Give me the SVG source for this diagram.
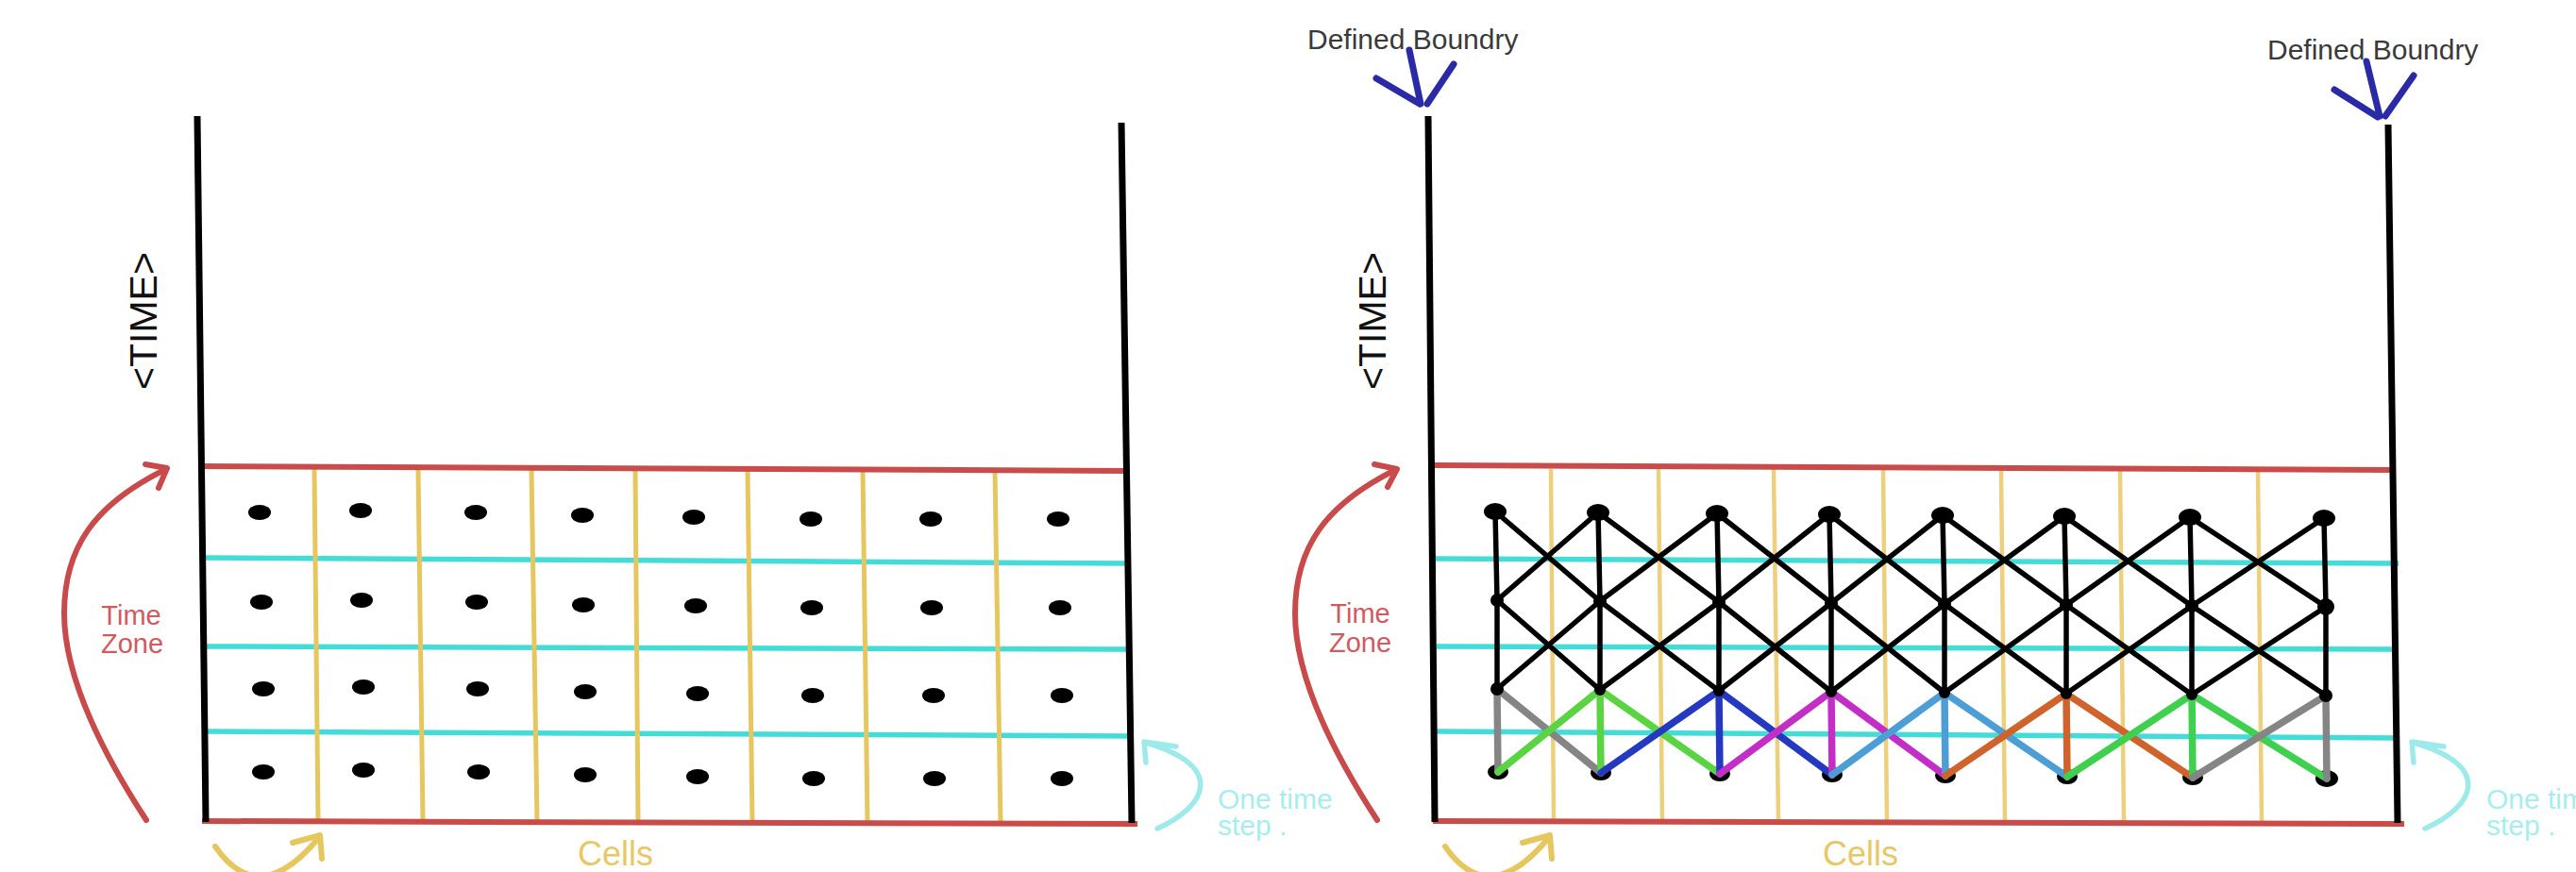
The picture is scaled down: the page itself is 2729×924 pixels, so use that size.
<svg xmlns="http://www.w3.org/2000/svg" width="2729" height="924" viewBox="0 0 2729 924">
<style>
.wall{stroke:#000;stroke-width:7;stroke-linecap:butt;fill:none}
.red{stroke:#c94c4a;stroke-width:6;fill:none}
.cyan{stroke:#44dcd8;stroke-width:5.5;fill:none}
.yel{stroke:#e6c65f;stroke-width:5;fill:none}
.yel2{stroke:#ecd07e;stroke-width:4.5;fill:none}
.dot{fill:#000}
.arrowRed{stroke:#c94a4a;stroke-width:6;fill:none;stroke-linecap:round;stroke-linejoin:round}
.arrowCyan{stroke:#9eeaea;stroke-width:5.5;fill:none;stroke-linecap:round;stroke-linejoin:round}
.arrowYel{stroke:#e6c65f;stroke-width:6;fill:none;stroke-linecap:round;stroke-linejoin:round}
.arrowBlue{stroke:#2a2aa6;stroke-width:7;fill:none;stroke-linecap:round}
.lbl{font-family:"Liberation Sans",Arial,sans-serif}
.time{font-size:41px;fill:#111}
.tz{font-size:29px;fill:#d05a62}
.ots{font-size:30px;fill:#a6eeee}
.cells{font-size:36px;fill:#e8c866}
.db{font-size:30px;fill:#3a3a3a}
.blk{stroke:#000;stroke-width:5.5;stroke-linecap:round}
.c{stroke-width:7.5;stroke-linecap:round}
</style>

<!-- ================= LEFT PANEL ================= -->
<g id="left-panel">
  <g id="left-grid">
    <line class="cyan" x1="216" y1="591" x2="1196" y2="597"/>
    <line class="cyan" x1="218" y1="685" x2="1193" y2="688"/>
    <line class="cyan" x1="218" y1="775" x2="1198" y2="780"/>
    <line class="yel" x1="333" y1="497" x2="337" y2="870"/>
    <line class="yel" x1="443" y1="497" x2="448" y2="870"/>
    <line class="yel" x1="563" y1="497" x2="569" y2="870"/>
    <line class="yel" x1="673" y1="497" x2="676" y2="871"/>
    <line class="yel" x1="792" y1="498" x2="797" y2="872"/>
    <line class="yel" x1="914" y1="498" x2="919" y2="872"/>
    <line class="yel" x1="1054" y1="499" x2="1060" y2="872"/>
    <line class="red" x1="212" y1="494" x2="1190" y2="499"/>
    <line class="red" x1="214" y1="870" x2="1205" y2="873"/>
    <line class="wall" x1="209" y1="123" x2="218" y2="871"/>
    <line class="wall" x1="1188" y1="130" x2="1199" y2="872"/>
  </g>
  <g id="left-dots">
    <ellipse class="dot" cx="275" cy="543" rx="12" ry="8"/>
    <ellipse class="dot" cx="382" cy="541" rx="12" ry="8"/>
    <ellipse class="dot" cx="504" cy="543" rx="12" ry="8"/>
    <ellipse class="dot" cx="617" cy="546" rx="12" ry="8"/>
    <ellipse class="dot" cx="735" cy="548" rx="12" ry="8"/>
    <ellipse class="dot" cx="859" cy="550" rx="12" ry="8"/>
    <ellipse class="dot" cx="986" cy="550" rx="12" ry="8"/>
    <ellipse class="dot" cx="1121" cy="550" rx="12" ry="8"/>

    <ellipse class="dot" cx="277" cy="638" rx="12" ry="8"/>
    <ellipse class="dot" cx="383" cy="636" rx="12" ry="8"/>
    <ellipse class="dot" cx="505" cy="638" rx="12" ry="8"/>
    <ellipse class="dot" cx="618" cy="641" rx="12" ry="8"/>
    <ellipse class="dot" cx="737" cy="642" rx="12" ry="8"/>
    <ellipse class="dot" cx="860" cy="644" rx="12" ry="8"/>
    <ellipse class="dot" cx="987" cy="644" rx="12" ry="8"/>
    <ellipse class="dot" cx="1123" cy="644" rx="12" ry="8"/>

    <ellipse class="dot" cx="279" cy="730" rx="12" ry="8"/>
    <ellipse class="dot" cx="385" cy="728" rx="12" ry="8"/>
    <ellipse class="dot" cx="506" cy="730" rx="12" ry="8"/>
    <ellipse class="dot" cx="620" cy="733" rx="12" ry="8"/>
    <ellipse class="dot" cx="739" cy="735" rx="12" ry="8"/>
    <ellipse class="dot" cx="861" cy="737" rx="12" ry="8"/>
    <ellipse class="dot" cx="989" cy="737" rx="12" ry="8"/>
    <ellipse class="dot" cx="1125" cy="737" rx="12" ry="8"/>

    <ellipse class="dot" cx="279" cy="818" rx="12" ry="8"/>
    <ellipse class="dot" cx="385" cy="816" rx="12" ry="8"/>
    <ellipse class="dot" cx="507" cy="818" rx="12" ry="8"/>
    <ellipse class="dot" cx="620" cy="821" rx="12" ry="8"/>
    <ellipse class="dot" cx="739" cy="823" rx="12" ry="8"/>
    <ellipse class="dot" cx="862" cy="825" rx="12" ry="8"/>
    <ellipse class="dot" cx="990" cy="825" rx="12" ry="8"/>
    <ellipse class="dot" cx="1125" cy="825" rx="12" ry="8"/>
  </g>
  <g id="left-time-label">
    <text class="lbl time" x="166" y="340" text-anchor="middle" transform="rotate(-90 166 340)">&lt;TIME&gt;</text>
  </g>
  <g id="left-time-zone">
    <path class="arrowRed" d="M155,869 C110,800 68,720 68,650 C68,580 100,535 174,498"/>
    <polyline class="arrowRed" points="154,492 177,496 168,517"/>
    <text class="lbl tz" x="139" y="662" text-anchor="middle">Time</text>
    <text class="lbl tz" x="140" y="692" text-anchor="middle">Zone</text>
  </g>
  <g id="left-one-time-step">
    <path class="arrowCyan" d="M1226,878 C1278,855 1300,812 1214,787"/>
    <polyline class="arrowCyan" points="1246,791 1212,786 1214,808"/>
    <text class="lbl ots" x="1290" y="857">One time</text>
    <text class="lbl ots" x="1290" y="885">step .</text>
  </g>
  <g id="left-cells">
    <path class="arrowYel" d="M228,897 Q275,965 339,886"/>
    <polyline class="arrowYel" points="310,893 339,885 341,910"/>
    <text class="lbl cells" x="612" y="917">Cells</text>
  </g>
</g>

<!-- ================= RIGHT PANEL ================= -->
<g id="right-panel">
  <g id="right-grid">
    <line class="cyan" x1="1520" y1="592" x2="2541" y2="597"/>
    <line class="cyan" x1="1522" y1="685" x2="2534" y2="688"/>
    <line class="cyan" x1="1522" y1="775" x2="2540" y2="782"/>
    <line class="yel2" x1="1643" y1="497" x2="1646" y2="871"/>
    <line class="yel2" x1="1757" y1="497" x2="1761" y2="871"/>
    <line class="yel2" x1="1879" y1="497" x2="1884" y2="871"/>
    <line class="yel2" x1="1995" y1="497" x2="1999" y2="872"/>
    <line class="yel2" x1="2120" y1="498" x2="2124" y2="872"/>
    <line class="yel2" x1="2246" y1="498" x2="2250" y2="872"/>
    <line class="yel2" x1="2392" y1="498" x2="2396" y2="872"/>
    <line class="red" x1="1517" y1="493" x2="2534" y2="498"/>
    <line class="red" x1="1518" y1="870" x2="2547" y2="873"/>
    <line class="wall" x1="1513" y1="123" x2="1520" y2="871"/>
    <line class="wall" x1="2530" y1="132" x2="2540" y2="872"/>
  </g>

  <g id="bottom-nodes">
    <ellipse class="dot" cx="1587" cy="818" rx="11" ry="8"/>
    <ellipse class="dot" cx="1696" cy="819" rx="11" ry="8"/>
    <ellipse class="dot" cx="1822" cy="820" rx="11" ry="8"/>
    <ellipse class="dot" cx="1941" cy="821" rx="11" ry="8"/>
    <ellipse class="dot" cx="2061" cy="822" rx="11" ry="8"/>
    <ellipse class="dot" cx="2190" cy="823" rx="11" ry="8"/>
    <ellipse class="dot" cx="2323" cy="824" rx="11" ry="8"/>
    <ellipse class="dot" cx="2465" cy="825" rx="12" ry="9"/>
  </g>

  <g id="connectors">
    <g id="black-lattice" class="blk">
      <line x1="1584" y1="542" x2="1586" y2="636"/>
      <line x1="1693" y1="543" x2="1695" y2="637"/>
      <line x1="1819" y1="544" x2="1821" y2="638"/>
      <line x1="1938" y1="545" x2="1940" y2="639"/>
      <line x1="2058" y1="546" x2="2060" y2="640"/>
      <line x1="2187" y1="547" x2="2189" y2="641"/>
      <line x1="2320" y1="548" x2="2322" y2="642"/>
      <line x1="2462" y1="549" x2="2464" y2="643"/>
      <line x1="1584" y1="542" x2="1695" y2="637"/><line x1="1693" y1="543" x2="1586" y2="636"/>
      <line x1="1693" y1="543" x2="1821" y2="638"/><line x1="1819" y1="544" x2="1695" y2="637"/>
      <line x1="1819" y1="544" x2="1940" y2="639"/><line x1="1938" y1="545" x2="1821" y2="638"/>
      <line x1="1938" y1="545" x2="2060" y2="640"/><line x1="2058" y1="546" x2="1940" y2="639"/>
      <line x1="2058" y1="546" x2="2189" y2="641"/><line x1="2187" y1="547" x2="2060" y2="640"/>
      <line x1="2187" y1="547" x2="2322" y2="642"/><line x1="2320" y1="548" x2="2189" y2="641"/>
      <line x1="2320" y1="548" x2="2464" y2="643"/><line x1="2462" y1="549" x2="2322" y2="642"/>

      <line x1="1586" y1="636" x2="1586" y2="730"/>
      <line x1="1695" y1="637" x2="1695" y2="731"/>
      <line x1="1821" y1="638" x2="1821" y2="732"/>
      <line x1="1940" y1="639" x2="1940" y2="733"/>
      <line x1="2060" y1="640" x2="2060" y2="734"/>
      <line x1="2189" y1="641" x2="2189" y2="735"/>
      <line x1="2322" y1="642" x2="2322" y2="736"/>
      <line x1="2464" y1="643" x2="2464" y2="737"/>
      <line x1="1586" y1="636" x2="1695" y2="731"/><line x1="1695" y1="637" x2="1586" y2="730"/>
      <line x1="1695" y1="637" x2="1821" y2="732"/><line x1="1821" y1="638" x2="1695" y2="731"/>
      <line x1="1821" y1="638" x2="1940" y2="733"/><line x1="1940" y1="639" x2="1821" y2="732"/>
      <line x1="1940" y1="639" x2="2060" y2="734"/><line x1="2060" y1="640" x2="1940" y2="733"/>
      <line x1="2060" y1="640" x2="2189" y2="735"/><line x1="2189" y1="641" x2="2060" y2="734"/>
      <line x1="2189" y1="641" x2="2322" y2="736"/><line x1="2322" y1="642" x2="2189" y2="735"/>
      <line x1="2322" y1="642" x2="2464" y2="737"/><line x1="2464" y1="643" x2="2322" y2="736"/>
    </g>
    <g id="colored-steps" class="c">
      <g stroke="#858585"><line x1="1586" y1="730" x2="1587" y2="818"/><line x1="1586" y1="730" x2="1696" y2="819"/></g>
      <g stroke="#5bd444"><line x1="1695" y1="731" x2="1696" y2="819"/><line x1="1695" y1="731" x2="1587" y2="818"/><line x1="1695" y1="731" x2="1822" y2="820"/></g>
      <g stroke="#2438c0"><line x1="1821" y1="732" x2="1822" y2="820"/><line x1="1821" y1="732" x2="1696" y2="819"/><line x1="1821" y1="732" x2="1941" y2="821"/></g>
      <g stroke="#c22ec6"><line x1="1940" y1="733" x2="1941" y2="821"/><line x1="1940" y1="733" x2="1822" y2="820"/><line x1="1940" y1="733" x2="2061" y2="822"/></g>
      <g stroke="#4e9ed6"><line x1="2060" y1="734" x2="2061" y2="822"/><line x1="2060" y1="734" x2="1941" y2="821"/><line x1="2060" y1="734" x2="2190" y2="823"/></g>
      <g stroke="#d0622c"><line x1="2189" y1="735" x2="2190" y2="823"/><line x1="2189" y1="735" x2="2061" y2="822"/><line x1="2189" y1="735" x2="2323" y2="824"/></g>
      <g stroke="#3ed04e"><line x1="2322" y1="736" x2="2323" y2="824"/><line x1="2322" y1="736" x2="2190" y2="823"/><line x1="2322" y1="736" x2="2465" y2="825"/></g>
      <g stroke="#858585"><line x1="2464" y1="737" x2="2465" y2="825"/><line x1="2464" y1="737" x2="2323" y2="824"/></g>
    </g>
  </g>

  <g id="top-nodes">
    <ellipse class="dot" cx="1584" cy="542" rx="12" ry="9"/>
    <ellipse class="dot" cx="1693" cy="543" rx="12" ry="9"/>
    <ellipse class="dot" cx="1819" cy="544" rx="12" ry="9"/>
    <ellipse class="dot" cx="1938" cy="545" rx="12" ry="9"/>
    <ellipse class="dot" cx="2058" cy="546" rx="12" ry="9"/>
    <ellipse class="dot" cx="2187" cy="547" rx="12" ry="9"/>
    <ellipse class="dot" cx="2320" cy="548" rx="12" ry="9"/>
    <ellipse class="dot" cx="2462" cy="549" rx="12" ry="9"/>
  </g>
  <g id="middle-nodes">
    <circle class="dot" cx="1586" cy="636" r="7"/>
    <circle class="dot" cx="1695" cy="637" r="7"/>
    <circle class="dot" cx="1821" cy="638" r="7"/>
    <circle class="dot" cx="1940" cy="639" r="7"/>
    <circle class="dot" cx="2060" cy="640" r="7"/>
    <circle class="dot" cx="2189" cy="641" r="7"/>
    <circle class="dot" cx="2322" cy="642" r="7"/>
    <circle class="dot" cx="2464" cy="643" r="9"/>
    <circle class="dot" cx="1586" cy="730" r="7"/>
    <circle class="dot" cx="1695" cy="731" r="6"/>
    <circle class="dot" cx="1821" cy="732" r="6"/>
    <circle class="dot" cx="1940" cy="733" r="6"/>
    <circle class="dot" cx="2060" cy="734" r="6"/>
    <circle class="dot" cx="2189" cy="735" r="6"/>
    <circle class="dot" cx="2322" cy="736" r="6"/>
    <circle class="dot" cx="2464" cy="737" r="7"/>
  </g>

  <g id="right-time-label">
    <text class="lbl time" x="1468" y="340" text-anchor="middle" transform="rotate(-90 1468 340)">&lt;TIME&gt;</text>
  </g>
  <g id="right-time-zone">
    <path class="arrowRed" d="M1459,869 C1414,800 1372,720 1372,650 C1372,580 1404,535 1478,498"/>
    <polyline class="arrowRed" points="1456,492 1480,497 1470,516"/>
    <text class="lbl tz" x="1441" y="660" text-anchor="middle">Time</text>
    <text class="lbl tz" x="1441" y="691" text-anchor="middle">Zone</text>
  </g>
  <g id="right-one-time-step">
    <path class="arrowCyan" d="M2569,878 C2621,855 2643,812 2557,787"/>
    <polyline class="arrowCyan" points="2589,791 2555,786 2557,808"/>
    <text class="lbl ots" x="2634" y="857">One time</text>
    <text class="lbl ots" x="2634" y="885">step .</text>
  </g>
  <g id="right-cells">
    <path class="arrowYel" d="M1531,897 Q1578,965 1642,886"/>
    <polyline class="arrowYel" points="1613,893 1642,885 1644,910"/>
    <text class="lbl cells" x="1931" y="917">Cells</text>
  </g>
  <g id="boundary-left">
    <text class="lbl db" x="1385" y="52">Defined Boundry</text>
    <line class="arrowBlue" x1="1493" y1="53" x2="1505" y2="110"/>
    <line class="arrowBlue" x1="1458" y1="83" x2="1504" y2="110"/>
    <line class="arrowBlue" x1="1540" y1="68" x2="1512" y2="110"/>
  </g>
  <g id="boundary-right">
    <text class="lbl db" x="2402" y="63">Defined Boundry</text>
    <line class="arrowBlue" x1="2507" y1="65" x2="2521" y2="123"/>
    <line class="arrowBlue" x1="2473" y1="95" x2="2519" y2="124"/>
    <line class="arrowBlue" x1="2557" y1="80" x2="2527" y2="123"/>
  </g>
</g>
</svg>
